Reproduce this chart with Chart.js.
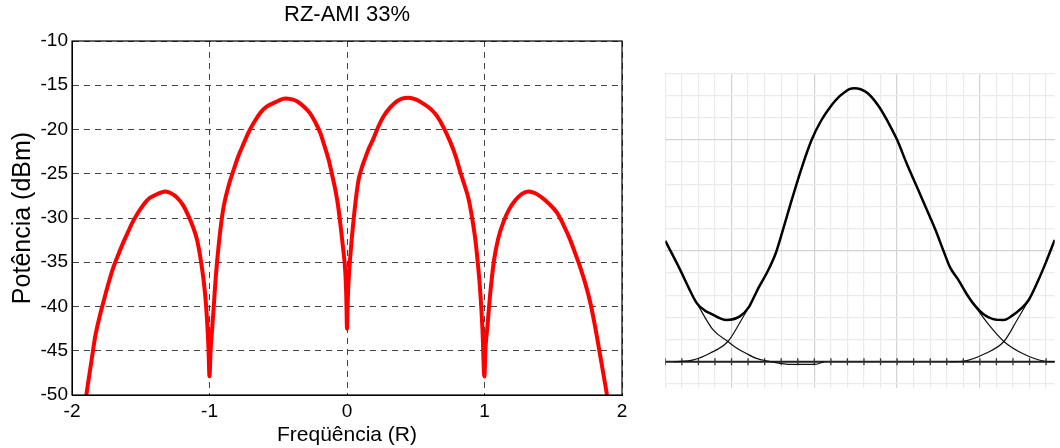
<!DOCTYPE html>
<html>
<head>
<meta charset="utf-8">
<script src="https://cdn.jsdelivr.net/npm/chart.js@4.4.1/dist/chart.umd.min.js"></script>
<style>
  body { margin: 0; background: #fff; width: 1060px; height: 448px; overflow: hidden; position: relative; }
  canvas { position: absolute; top: 0; }
  #spectrum { left: 0; }
  #sketch { left: 660px; }
</style>
</head>
<body>
<canvas id="spectrum" width="650" height="448"></canvas>
<canvas id="sketch" width="400" height="448"></canvas>
<script>
// left plot: RZ-AMI 33% spectrum
const freqR = [
  -1.896, -1.86, -1.83, -1.80, -1.77, -1.735, -1.70, -1.66, -1.625, -1.59, -1.564, -1.52, -1.48, -1.44,
  -1.394, -1.35, -1.32, -1.28, -1.236, -1.19, -1.152, -1.12, -1.09, -1.065, -1.043, -1.028, -1.018, -1.008,
  -1.0, -0.992, -0.982, -0.97, -0.955, -0.934, -0.915, -0.897, -0.86, -0.825, -0.79, -0.752, -0.715, -0.68,
  -0.63, -0.582, -0.52, -0.449, -0.40, -0.364, -0.315, -0.267, -0.23, -0.194, -0.165, -0.134, -0.11, -0.085,
  -0.065, -0.049, -0.03, -0.012, -0.005, 0, 0.005, 0.012, 0.03, 0.048, 0.065, 0.084, 0.108, 0.133, 0.16,
  0.193, 0.23, 0.266, 0.315, 0.364, 0.40, 0.448, 0.50, 0.557, 0.61, 0.655, 0.70, 0.751, 0.79, 0.824, 0.855,
  0.885, 0.91, 0.933, 0.952, 0.969, 0.985, 0.999, 1.008, 1.02, 1.04, 1.07, 1.10, 1.139, 1.18, 1.224, 1.27,
  1.32, 1.37, 1.418, 1.47, 1.527, 1.575, 1.624, 1.66, 1.697, 1.735, 1.77, 1.80, 1.83, 1.86, 1.891
];
const powerDbm = [
  -50, -46.3, -43.3, -41.2, -39.4, -37.4, -35.6, -34.0, -32.7, -31.5, -30.6, -29.4, -28.5, -27.8,
  -27.4, -27.1, -27.0, -27.2, -27.7, -28.6, -29.8, -31.0, -32.5, -34.6, -37.0, -39.3, -41.5, -44.5,
  -47.9, -45.0, -42.8, -40.2, -36.8, -33.2, -30.6, -28.7, -26.3, -24.6, -23.0, -21.6, -20.3, -19.3,
  -18.1, -17.4, -16.9, -16.5, -16.6, -16.8, -17.4, -18.2, -19.2, -20.4, -21.8, -23.4, -25.0, -26.8,
  -28.6, -30.6, -33.2, -36.2, -39.0, -42.5, -39.5, -37.0, -33.2, -30.2, -27.8, -25.7, -24.3, -23.2, -22.1,
  -21.0, -19.6, -18.5, -17.5, -16.8, -16.5, -16.4, -16.6, -17.1, -17.7, -18.5, -19.7, -21.4, -23.0, -24.8, -26.3,
  -27.9, -30.0, -32.4, -35.2, -38.3, -42.5, -47.9, -44.5, -42.5, -38.8, -34.7, -32.3, -30.4, -29.0, -28.0, -27.3,
  -27.0, -27.2, -27.7, -28.4, -29.4, -30.8, -32.5, -34.0, -35.6, -37.5, -39.6, -41.9, -44.5, -47.2, -50
];
const freqTicks = [-2, -1, 0, 1, 2];
const powerTicks = [-50, -45, -40, -35, -30, -25, -20, -15, -10];

// right plot: sketch of overlapping pulses on grid paper (grid units)
const envelopeX = [-4.0, -3.1, -2.6, -2.1, -1.6, -1.31, -0.32, 0.48, 1.07, 1.27, 1.67, 2.2, 2.67, 3.1, 3.6, 4.2,
  4.84, 5.4, 6.03, 6.5, 6.83, 7.15, 7.42, 7.8, 8.23, 8.9, 9.6, 10.0, 10.6, 11.3, 12.0, 12.34, 12.8, 13.2,
  13.7, 14.2, 14.58, 15.2, 15.8, 16.45, 17.0, 17.5, 17.95, 18.54, 19.0, 19.52];
const envelopeY = [5.45, 4.14, 3.35, 2.64, 2.3, 2.19, 1.88, 2.03, 2.48, 2.78, 3.38, 4.1, 4.89, 5.93, 7.2, 8.65,
  10.0, 10.85, 11.55, 11.95, 12.15, 12.3, 12.33, 12.28, 12.1, 11.5, 10.6, 10.0, 8.9, 7.7, 6.5, 5.9, 5.0, 4.25,
  3.69, 3.05, 2.64, 2.15, 1.92, 1.88, 2.1, 2.4, 2.78, 3.69, 4.5, 5.49];
const leftPulseX = [-2.1, -1.11, -0.22, 0.3, 0.87, 1.5, 2.26, 3.45, 5.04, 5.6];
const leftPulseY = [2.64, 1.43, 0.91, 0.62, 0.38, 0.15, 0.02, -0.12, -0.12, 0];
const midPulseX = [-3.5, -2.3, -1.31, -0.22, 0.48, 1.27, 1.67, 14.2, 14.58, 15.5, 16.45, 17.55, 18.93, 19.52];
const midPulseY = [0.0, 0.08, 0.38, 0.91, 1.73, 2.78, 3.38, 3.05, 2.64, 1.7, 0.91, 0.38, 0.02, 0];
const rightPulseX = [13.2, 13.98, 15.36, 16.45, 17.25, 17.95];
const rightPulseY = [0.0, 0.02, 0.38, 0.91, 1.88, 2.78];
const baseTickX = [-4, -3, -2, -1, 0, 1, 2, 3, 4, 5, 6, 7, 8, 9, 10, 11, 12, 13, 14, 15, 16, 17, 18, 19];

const font = "'Liberation Sans', Arial, Helvetica, sans-serif";
const pts = (xs, ys) => xs.map((x, i) => ({ x: x, y: ys[i] }));

const boxPlugin = {
  id: "box",
  afterDraw(chart) {
    const a = chart.chartArea;
    const c = chart.ctx;
    c.save();
    c.strokeStyle = "#000";
    c.lineWidth = 1.2;
    c.strokeRect(a.left, a.top, a.right - a.left, a.bottom - a.top);
    c.restore();
  },
};

new Chart(document.getElementById("spectrum"), {
  type: "line",
  data: {
    datasets: [
      {
        label: "RZ-AMI 33%",
        data: pts(freqR, powerDbm),
        borderColor: "#ff0000",
        borderWidth: 4,
        pointRadius: 0,
        cubicInterpolationMode: "monotone",
        fill: false,
      },
    ],
  },
  options: {
    responsive: false,
    animation: false,
    layout: { padding: { left: 0, right: 28, top: 0, bottom: 0 } },
    plugins: { legend: { display: false }, tooltip: { enabled: false } },
    scales: {
      x: {
        type: "linear",
        min: -2,
        max: 2,
        afterBuildTicks: (s) => { s.ticks = freqTicks.map((v) => ({ value: v })); },
        afterFit: (s) => { s.height = 53; },
        ticks: { color: "#000", padding: 5, font: { family: font, size: 19 } },
        grid: { color: "#444", lineWidth: 1, drawTicks: false },
        border: { color: "#000", width: 1, dash: [6, 5] },
        title: {
          display: true,
          text: "Freqüência (R)",
          color: "#000",
          font: { family: font, size: 21 },
          padding: { top: 0, bottom: 0 },
        },
      },
      // top axis only carries the chart title, centred over the plot box
      top: {
        type: "linear",
        position: "top",
        min: -2,
        max: 2,
        afterFit: (s) => { s.height = 41; },
        ticks: { display: false },
        grid: { display: false, drawTicks: false },
        border: { display: false },
        title: {
          display: true,
          text: "RZ-AMI 33%",
          color: "#000",
          font: { family: font, size: 22 },
          padding: { top: 2, bottom: 0 },
        },
      },
      y: {
        min: -50,
        max: -10,
        afterBuildTicks: (s) => { s.ticks = powerTicks.map((v) => ({ value: v })); },
        afterFit: (s) => { s.width = 72; },
        ticks: { color: "#000", padding: 4, font: { family: font, size: 19 } },
        grid: { color: "#444", lineWidth: 1, drawTicks: false },
        border: { color: "#000", width: 1, dash: [6, 5] },
        title: {
          display: true,
          text: "Potência (dBm)",
          color: "#000",
          font: { family: font, size: 25 },
          padding: { top: 8, bottom: 0 },
        },
      },
    },
  },
  plugins: [boxPlugin],
});

const gridColor = (ctx) => (ctx.tick && ctx.tick.value % 5 === 0 ? "#d3d3d3" : "#ebebeb");
const curve = { showLine: true, pointRadius: 0, cubicInterpolationMode: "monotone" };

new Chart(document.getElementById("sketch"), {
  type: "scatter",
  data: {
    datasets: [
      Object.assign({ data: pts(envelopeX, envelopeY), borderColor: "#000", borderWidth: 2.5 }, curve),
      Object.assign({ data: pts(leftPulseX, leftPulseY), borderColor: "#111", borderWidth: 1.2 }, curve),
      Object.assign({ data: pts(midPulseX.slice(0, 7), midPulseY.slice(0, 7)), borderColor: "#111", borderWidth: 1.2 }, curve),
      Object.assign({ data: pts(midPulseX.slice(7), midPulseY.slice(7)), borderColor: "#111", borderWidth: 1.2 }, curve),
      Object.assign({ data: pts(rightPulseX, rightPulseY), borderColor: "#111", borderWidth: 1.2 }, curve),
      {
        // horizontal axis with small tick marks
        data: baseTickX.map((x) => ({ x: x, y: 0 })),
        showLine: false, pointStyle: "line", rotation: 90, radius: 3.5,
        borderColor: "#333", borderWidth: 1.3,
      },
      {
        data: [{ x: -4, y: 0 }, { x: 19.6, y: 0 }],
        showLine: true, borderColor: "#222", borderWidth: 2, pointRadius: 0,
      },
    ],
  },
  options: {
    responsive: false,
    animation: false,
    layout: { padding: { left: 4.8, right: 0, top: 73.3, bottom: 59.7 } },
    plugins: { legend: { display: false }, tooltip: { enabled: false } },
    scales: {
      x: {
        type: "linear", min: -4, max: 19.52,
        ticks: { display: false, stepSize: 1, includeBounds: false },
        afterFit: (s) => { s.height = 0; },
        grid: { color: gridColor, lineWidth: 1.2, drawTicks: false },
        border: { display: false },
      },
      y: {
        min: -1.2, max: 13,
        ticks: { display: false, stepSize: 1, includeBounds: false },
        afterFit: (s) => { s.width = 0; },
        grid: { color: gridColor, lineWidth: 1.2, drawTicks: false },
        border: { display: false },
      },
    },
  },
});
</script>
</body>
</html>
